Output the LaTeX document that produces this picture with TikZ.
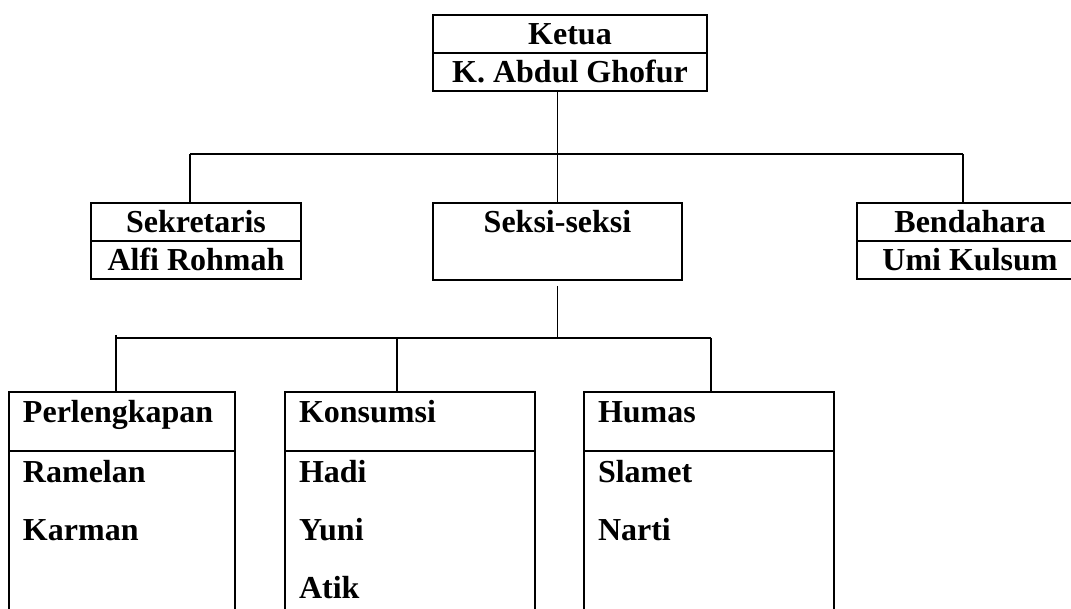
\documentclass[tikz,border=0pt]{standalone}
\usepackage{fontspec}
\setmainfont{Liberation Serif}
\usetikzlibrary{positioning}

\tikzset{
  rowbox/.style={draw, line width=2pt, outer sep=0pt, inner sep=0pt, text height=30pt, text depth=8pt, align=center},
  headbox/.style={draw, line width=2pt, outer sep=0pt, inner ysep=0pt, inner xsep=14pt, text width=#1, align=left, text height=31pt, text depth=28pt},
  listbox/.style={draw, line width=2pt, outer sep=0pt, inner sep=0pt, minimum width=#1, minimum height=200pt},
  member/.style={inner sep=0pt, outer sep=0pt, text height=29pt, text depth=9pt},
  link/.style={line width=1.8pt}
}

\begin{document}
  \begin{tikzpicture}[x=1pt, y=-1pt, font=\fontsize{32}{38}\selectfont\bfseries]
    \useasboundingbox (0,0) rectangle (1071,609);
    \clip (0,0) rectangle (1071,609);

    \node[rowbox, minimum width=274pt] (ketua) at (570,34) {Ketua};
    \node[rowbox, minimum width=274pt, below=0pt of ketua] (ghofur) {K. Abdul Ghofur};

    \node[rowbox, minimum width=210pt] (sekretaris) at (196,222) {Sekretaris};
    \node[rowbox, minimum width=210pt, below=0pt of sekretaris] (alfi) {Alfi Rohmah};

    \node[rowbox, minimum width=249pt, text depth=47pt] (seksi) at (557.5,241.5) {Seksi-seksi};

    \node[rowbox, minimum width=226pt] (bendahara) at (970,222) {Bendahara};
    \node[rowbox, minimum width=226pt, below=0pt of bendahara] (umi) {Umi Kulsum};

    \coordinate (barL) at (190,154);
    \coordinate (barR) at (963,154);
    \draw[link] (seksi.north) -- (seksi.north |- ghofur.south);
    \draw[link] (barL) -- (barR);
    \draw[link] (barL) -- (barL |- sekretaris.north);
    \draw[link] (barR) -- (barR |- bendahara.north);

    \node[headbox=198pt] (perlengkapan) at (122,421.5) {Perlengkapan};
    \node[listbox=226pt, below=0pt of perlengkapan] (perlbody) {};
    \node[member, below right=2pt and 14pt of perlengkapan.south west] (ramelan) {Ramelan};
    \node[member, below right=20pt and 0pt of ramelan.south west] (karman) {Karman};

    \node[headbox=222pt] (konsumsi) at (410,421.5) {Konsumsi};
    \node[listbox=250pt, below=0pt of konsumsi] (konsbody) {};
    \node[member, below right=2pt and 14pt of konsumsi.south west] (hadi) {Hadi};
    \node[member, below right=20pt and 0pt of hadi.south west] (yuni) {Yuni};
    \node[member, below right=20pt and 0pt of yuni.south west] (atik) {Atik};

    \node[headbox=222pt] (humas) at (709,421.5) {Humas};
    \node[listbox=250pt, below=0pt of humas] (humasbody) {};
    \node[member, below right=2pt and 14pt of humas.south west] (slamet) {Slamet};
    \node[member, below right=20pt and 0pt of slamet.south west] (narti) {Narti};

    \coordinate (subL) at (116,338);
    \coordinate (subM) at (397,338);
    \coordinate (subR) at (711,338);
    \draw[link] ([yshift=-6pt]seksi.south) -- (seksi.south |- subM);
    \draw[link] (subL) -- (subR);
    \draw[link] ([yshift=3pt]subL) -- (subL |- perlengkapan.north);
    \draw[link] (subM) -- (subM |- konsumsi.north);
    \draw[link] (subR) -- (subR |- humas.north);
  \end{tikzpicture}
\end{document}
